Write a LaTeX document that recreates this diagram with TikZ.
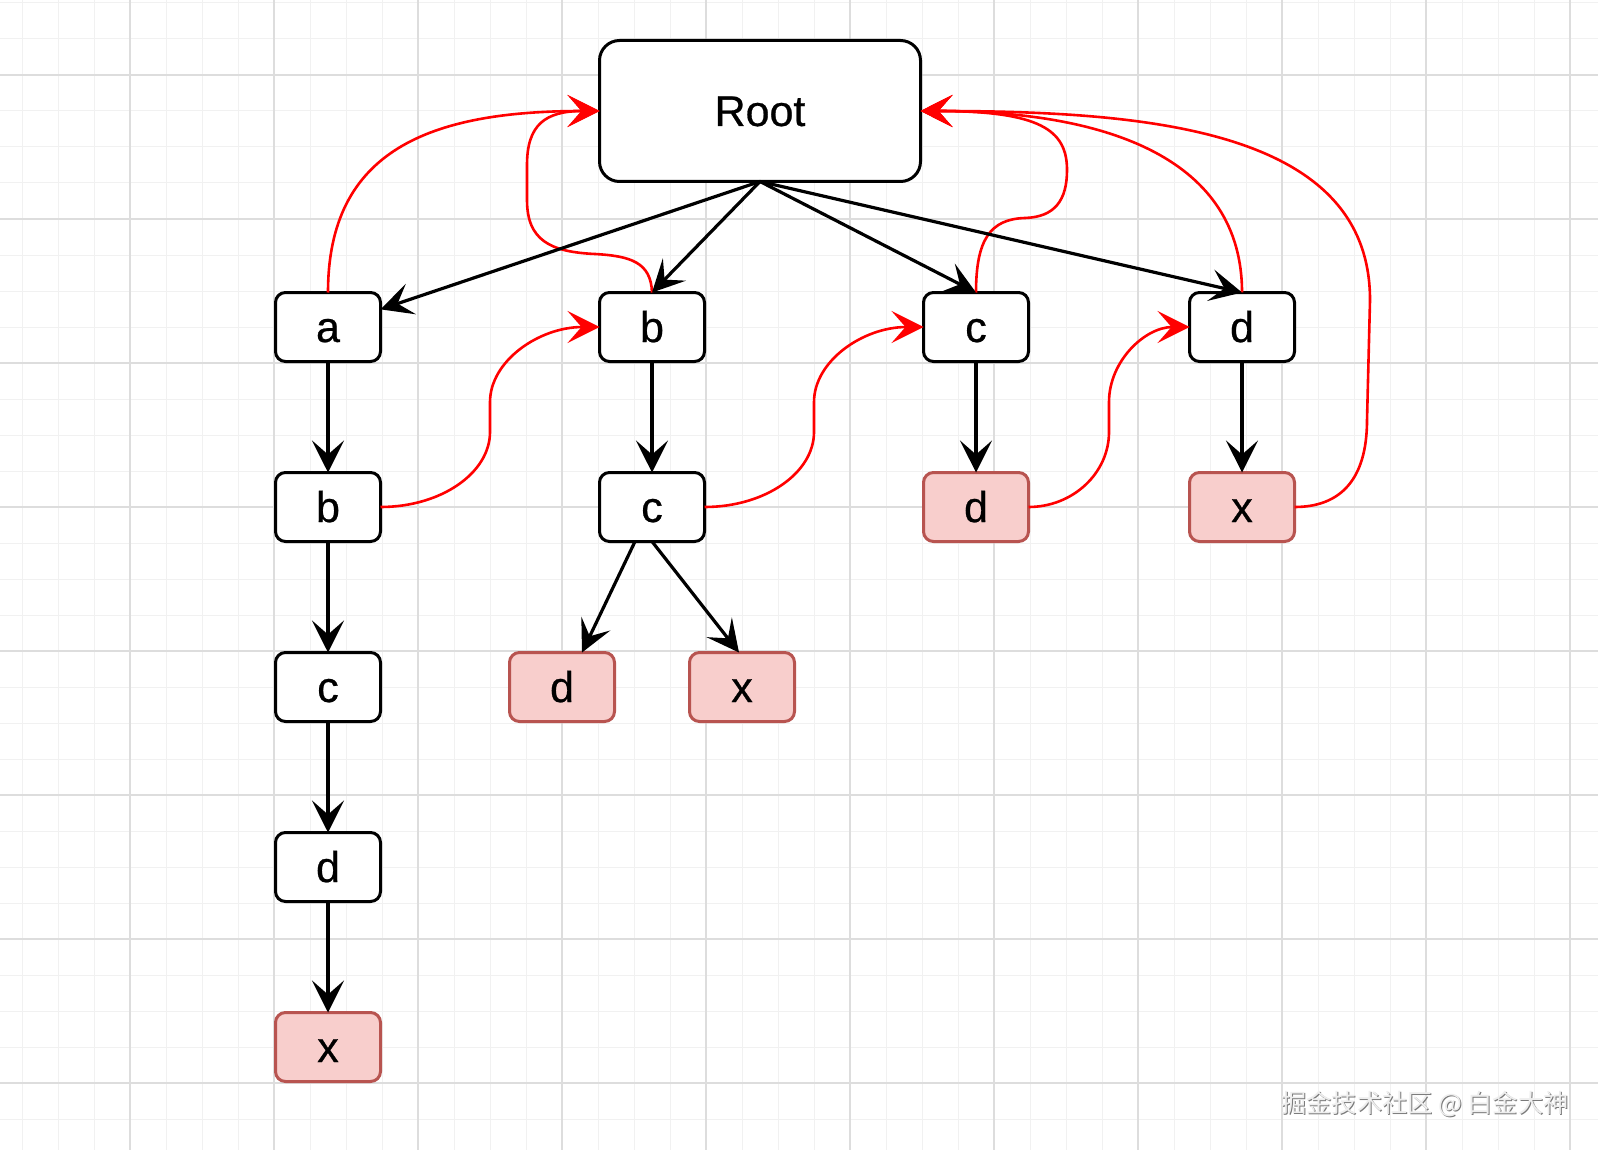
\documentclass[tikz,border=0pt]{standalone}
\usepackage{fontspec}
\setmainfont{Liberation Sans}
\newfontfamily\boxfont[FakeBold=0.6]{Liberation Sans}
\newfontfamily\cjk{Noto Sans CJK SC}
\usetikzlibrary{arrows.meta}
\definecolor{pinkfill}{HTML}{F8CECC}
\definecolor{pinkdraw}{HTML}{B85450}
\definecolor{gridminor}{HTML}{F1F1F1}
\definecolor{gridmajor}{HTML}{DDDDDD}
\definecolor{redline}{HTML}{FF0000}
\definecolor{wmdark}{HTML}{7A7A7A}
\definecolor{wmlight}{HTML}{EEEEEE}
\begin{document}
\begin{tikzpicture}[x=0.5pt,y=-0.5pt,
  box/.style={draw=black, line width=1.5pt, fill=white, rounded corners=5pt,
    minimum width=52.5pt, minimum height=34.5pt, inner sep=0pt, outer sep=0pt,
    text height=19pt, text depth=4pt,
    font=\boxfont\fontsize{21.5}{24}\selectfont},
  leaf/.style={box, draw=pinkdraw, fill=pinkfill},
  rootbox/.style={box, minimum width=160.5pt, minimum height=70.5pt, rounded corners=10pt},
  tip/.style={-{Stealth[length=16pt,width=16pt,inset=7pt]}},
  tree/.style={draw=black, line width=1.6pt, tip},
  back/.style={draw=redline, line width=1.3pt, tip},
  minorgrid/.style={draw=gridminor, line width=0.5pt},
  majorgrid/.style={draw=gridmajor, line width=0.8pt},
  wm/.style={font=\cjk\fontsize{12.6}{14}\selectfont, inner sep=0pt}]

\useasboundingbox (0,0) rectangle (1598,1150);
\fill[white] (0,0) rectangle (1598,1150);

% grid
\foreach \i in {0,...,43} {\draw[minorgrid] ({22+36*\i},0) -- ({22+36*\i},1150);}
\foreach \i in {0,...,31} {\draw[minorgrid] (0,{3+36*\i}) -- (1598,{3+36*\i});}
\foreach \i in {0,...,10} {\draw[majorgrid] ({130+144*\i},0) -- ({130+144*\i},1150);}
\foreach \i in {0,...,7} {\draw[majorgrid] (0,{75+144*\i}) -- (1598,{75+144*\i});}

% nodes
\node[rootbox] (root) at (760,111) {Root};
\node[box] (a1) at (328,327) {a};
\node[box] (b1) at (328,507) {b};
\node[box] (c1) at (328,687) {c};
\node[box] (d1) at (328,867) {d};
\node[leaf] (x1) at (328,1047) {x};
\node[box] (b2) at (652,327) {b};
\node[box] (c2) at (652,507) {c};
\node[leaf] (d2) at (562,687) {d};
\node[leaf] (x2) at (742,687) {x};
\node[box] (c3) at (976,327) {c};
\node[leaf] (d3) at (976,507) {d};
\node[box] (d4) at (1242,327) {d};
\node[leaf] (x4) at (1242,507) {x};

% red back links
\draw[back] (a1.north) .. controls (328,150) and (430,111) .. (root.west);
\draw[back] (b2.north) .. controls (651,262) and (630,256) .. (595,254)
  .. controls (550,252) and (527,240) .. (527,200) -- (527,165)
  .. controls (527,125) and (545,111) .. (root.west);
\draw[back] (b1.east) .. controls (441,507) and (490,473) .. (490,432) -- (490,402)
  .. controls (490,361) and (539,327) .. (b2.west);
\draw[back] (c2.east) .. controls (765,507) and (814,473) .. (814,432) -- (814,402)
  .. controls (814,361) and (863,327) .. (c3.west);
\draw[back] (d3.east) .. controls (1073,507) and (1109,473) .. (1109,432) -- (1109,402)
  .. controls (1109,361) and (1145,327) .. (d4.west);
\draw[back] (c3.north) .. controls (976,240) and (990,219) .. (1025,218)
  .. controls (1055,217) and (1067,200) .. (1067,170)
  .. controls (1067,130) and (1040,111) .. (root.east);
\draw[back] (d4.north) .. controls (1242,160) and (1110,111) .. (root.east);
\draw[back] (x4.east) .. controls (1340,507) and (1367,480) .. (1367,420) -- (1370,300)
  .. controls (1370,130) and (1150,111) .. (root.east);

% tree edges
\draw[tree] (root.south) -- (a1);
\draw[tree] (root.south) -- (b2.north);
\draw[tree] (root.south) -- (c3.north);
\draw[tree] (root.south) -- (d4.north);
\draw[tree] (a1) -- (b1);
\draw[tree] (b1) -- (c1);
\draw[tree] (c1) -- (d1);
\draw[tree] (d1) -- (x1);
\draw[tree] (b2) -- (c2);
\draw[tree] ([xshift=-8.5pt]c2.south) -- ([xshift=10pt]d2.north);
\draw[tree] (c2.south) -- ([xshift=-1.5pt]x2.north);
\draw[tree] (c3) -- (d3);
\draw[tree] (d4) -- (x4);

% watermark
\node[wm, text=wmdark] (wmshadow) at (1426,1105) {掘金技术社区 @ 白金大神};
\node[wm, text=wmlight] (wmtext) at (1425,1104) {掘金技术社区 @ 白金大神};
\end{tikzpicture}
\end{document}
